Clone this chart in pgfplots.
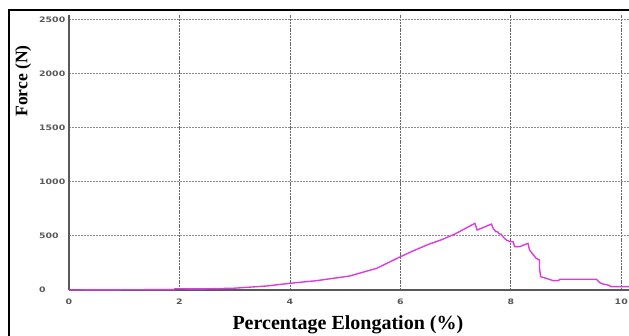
\documentclass[border=0pt]{standalone}
\usepackage{fontspec}
\setmainfont{Liberation Serif}
\newfontfamily\tickfont[FakeStretch=1.25]{DejaVu Sans}
\usepackage{pgfplots}
\pgfplotsset{compat=1.18}
\definecolor{curve}{RGB}{218,60,222}
\begin{document}
\begin{tikzpicture}
\useasboundingbox (-69pt,-45pt) rectangle (560pt,290pt);
\begin{axis}[
  scale only axis,
  width=560pt, height=275pt,
  xmin=0, xmax=10.14, ymin=0, ymax=2540,
  axis x line*=bottom, axis y line*=left,
  axis line style={black!65, line width=1.3pt},
  xtick={0,2,...,10}, ytick={0,500,...,2500},
  tick style={draw=none},
  grid=major,
  major x grid style={black!60, dash pattern=on 2pt off 0.8pt, line width=0.8pt},
  major y grid style={black!45, dash pattern=on 2pt off 1pt, line width=0.8pt},
  /pgf/number format/assume math mode=true,
  /pgf/number format/1000 sep={},
  ticklabel style={font=\tickfont\bfseries\fontsize{7.5}{9}\selectfont, text=black!65},
  xticklabel style={yshift=-5pt},
  yticklabel style={anchor=west, inner sep=0pt, xshift=-30pt},
  xlabel={\bfseries Percentage Elongation (\%)},
  xlabel style={at={(axis description cs:0.498,-0.127)}, anchor=center, font=\fontsize{20}{22}\selectfont},
  ylabel={\bfseries Force (N)},
  ylabel style={at={(axis description cs:-0.082,0.76)}, anchor=center, rotate=0, font=\fontsize{17.6}{20}\selectfont},
  clip=true,
]
\addplot[curve, line width=1.4pt] coordinates {
(0,0) (1.0,2) (1.9,4) (1.92,12) (2.37,10) (2.97,16) (3.58,37) (4.0,62) (4.48,86)
(5.08,129) (5.57,200) (6.0,307) (6.25,365) (6.5,420) (6.75,465) (7.0,520) (7.35,616)
(7.39,554) (7.65,609) (7.68,570) (7.73,538) (7.76,538) (7.79,517) (7.82,517) (7.85,499)
(7.88,480) (7.92,461) (7.99,446) (8.04,446) (8.07,400) (8.16,400) (8.31,431) (8.34,369)
(8.46,292) (8.52,277) (8.52,200) (8.54,123) (8.64,108) (8.77,86) (8.86,86) (8.89,99)
(9.55,99) (9.61,68) (9.67,55) (9.76,46) (9.82,31) (10.2,31)
};
\end{axis}
\draw[black, line width=1.5pt] (-60pt,-50pt) -- (-60pt,280pt) -- (570pt,280pt);
\end{tikzpicture}
\end{document}
